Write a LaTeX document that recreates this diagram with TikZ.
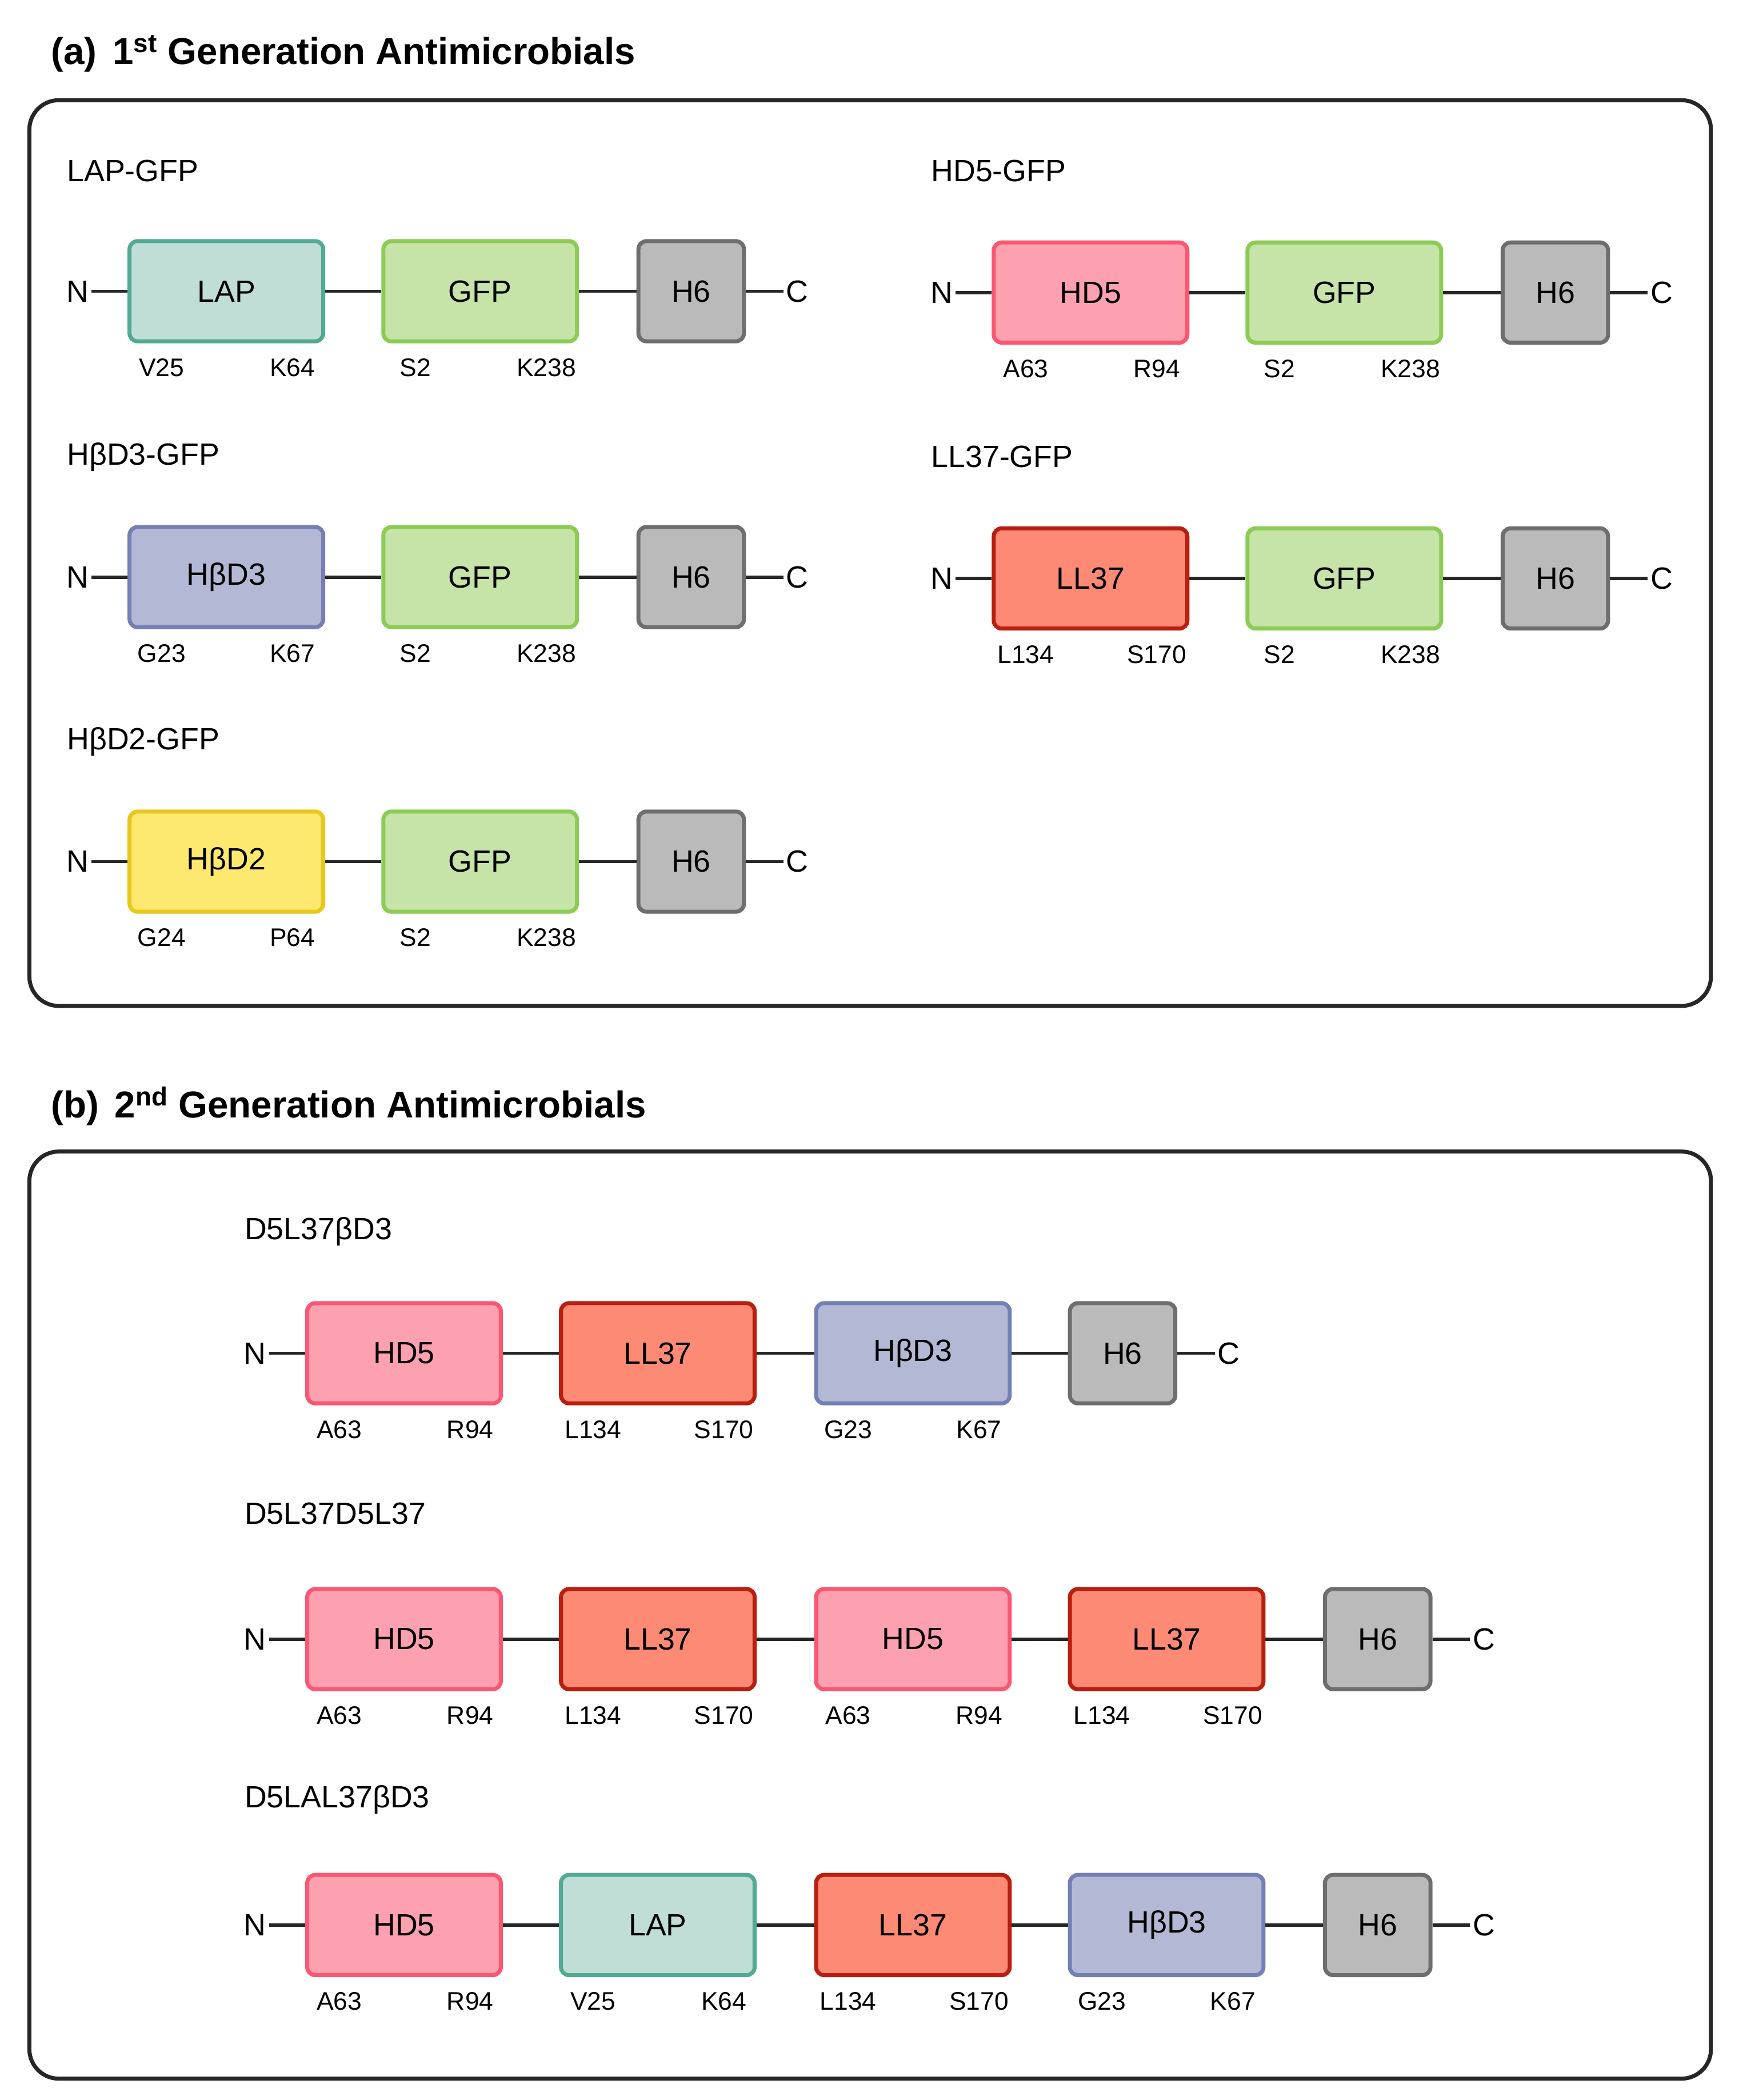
\documentclass[tikz,border=0pt]{standalone}
\usepackage{fontspec}
\setmainfont{Liberation Sans}
\definecolor{lapF}{HTML}{C0DDD6}\definecolor{lapB}{HTML}{52AA94}
\definecolor{gfpF}{HTML}{C6E3A8}\definecolor{gfpB}{HTML}{8CCB55}
\definecolor{hF}{HTML}{BABABA}\definecolor{hB}{HTML}{6E6E6E}
\definecolor{hdF}{HTML}{FDA0B0}\definecolor{hdB}{HTML}{FA5872}
\definecolor{bdF}{HTML}{B3B8D5}\definecolor{bdB}{HTML}{7480B5}
\definecolor{llF}{HTML}{FD8A75}\definecolor{llB}{HTML}{B91E10}
\definecolor{b2F}{HTML}{FDE870}\definecolor{b2B}{HTML}{E8C81A}
\tikzset{
 dombox/.style={draw, line width=3pt, rounded corners=6pt, minimum width=145pt, minimum height=75pt, inner sep=0pt, font=\fontsize{23}{27}\selectfont},
 lap/.style={dombox, fill=lapF, draw=lapB},
 gfp/.style={dombox, fill=gfpF, draw=gfpB},
 hsix/.style={dombox, fill=hF, draw=hB, minimum width=79pt},
 hd/.style={dombox, fill=hdF, draw=hdB},
 bd/.style={dombox, fill=bdF, draw=bdB},
 ll/.style={dombox, fill=llF, draw=llB},
 btwo/.style={dombox, fill=b2F, draw=b2B},
 res/.style={font=\fontsize{19}{22}\selectfont, inner sep=0pt},
 term/.style={font=\fontsize{23}{27}\selectfont, inner sep=2pt},
 cname/.style={font=\fontsize{23}{27}\selectfont, anchor=west, inner sep=0pt},
 link/.style={line width=2.5pt, draw=black!85},
 panel/.style={draw=black!85, line width=3pt, rounded corners=22pt},
 ttl/.style={font=\fontsize{28}{32}\selectfont\bfseries, anchor=west, inner sep=0pt},
}
% #1 name, #2 left x, #3 center y, #4 style, #5 text, #6 #7 residues, #8 width
\newcommand\dom[8]{%
 \node[#4] (#1) at ({#2+#8/2},#3) {#5};
 \node[res] (#1a) at ({#2+24},{#3+57}) {#6};
 \node[res] (#1b) at ({#2+122},{#3+57}) {#7};}
\newcommand\hsix[3]{\node[hsix] (#1) at ({#2+39.5},#3) {H6};}
\begin{document}
\begin{tikzpicture}[x=1pt,y=-1pt]
\useasboundingbox (0,0) rectangle (1302,1572);
% panel a
\node[ttl] (ta) at (38,40) {(a)\hspace{12pt}1\textsuperscript{st} Generation Antimicrobials};
\draw[panel] (22,75) rectangle (1281,753);
% panel b
\node[ttl] (tb) at (38,828) {(b)\hspace{12pt}2\textsuperscript{nd} Generation Antimicrobials};
\draw[panel] (22,862) rectangle (1281,1556);

% ---- panel a constructs
% LAP-GFP
\node[cname] (c1) at (50,128) {LAP-GFP};
\node[term] (n1) at (58,218) {N};
\dom{a1}{97}{218}{lap}{LAP}{V25}{K64}{145}
\dom{a2}{287}{218}{gfp}{GFP}{S2}{K238}{145}
\hsix{a3}{478}{218}
\node[term] (e1) at (597,218) {C};
\draw[link] (n1) -- (a1) (a1) -- (a2) (a2) -- (a3) (a3) -- (e1);
% HD5-GFP
\node[cname] (c2) at (697,128) {HD5-GFP};
\node[term] (n2) at (705,219) {N};
\dom{b1}{744}{219}{hd}{HD5}{A63}{R94}{145}
\dom{b2}{934}{219}{gfp}{GFP}{S2}{K238}{145}
\hsix{b3}{1125}{219}
\node[term] (e2) at (1244,219) {C};
\draw[link] (n2) -- (b1) (b1) -- (b2) (b2) -- (b3) (b3) -- (e2);
% HbD3-GFP
\node[cname] (c3) at (50,342) {HβD3-GFP};
\node[term] (n3) at (58,432) {N};
\dom{d1}{97}{432}{bd}{HβD3}{G23}{K67}{145}
\dom{d2}{287}{432}{gfp}{GFP}{S2}{K238}{145}
\hsix{d3}{478}{432}
\node[term] (e3) at (597,432) {C};
\draw[link] (n3) -- (d1) (d1) -- (d2) (d2) -- (d3) (d3) -- (e3);
% LL37-GFP
\node[cname] (c4) at (697,342) {LL37-GFP};
\node[term] (n4) at (705,433) {N};
\dom{f1}{744}{433}{ll}{LL37}{L134}{S170}{145}
\dom{f2}{934}{433}{gfp}{GFP}{S2}{K238}{145}
\hsix{f3}{1125}{433}
\node[term] (e4) at (1244,433) {C};
\draw[link] (n4) -- (f1) (f1) -- (f2) (f2) -- (f3) (f3) -- (e4);
% HbD2-GFP
\node[cname] (c5) at (50,555) {HβD2-GFP};
\node[term] (n5) at (58,645) {N};
\dom{g1}{97}{645}{btwo}{HβD2}{G24}{P64}{145}
\dom{g2}{287}{645}{gfp}{GFP}{S2}{K238}{145}
\hsix{g3}{478}{645}
\node[term] (e5) at (597,645) {C};
\draw[link] (n5) -- (g1) (g1) -- (g2) (g2) -- (g3) (g3) -- (e5);

% ---- panel b constructs
\node[cname] (c6) at (183,922) {D5L37βD3};
\node[term] (n6) at (191,1013) {N};
\dom{p1}{230}{1013}{hd}{HD5}{A63}{R94}{145}
\dom{p2}{420}{1013}{ll}{LL37}{L134}{S170}{145}
\dom{p3}{611}{1013}{bd}{HβD3}{G23}{K67}{145}
\hsix{p4}{801}{1013}
\node[term] (e6) at (920,1013) {C};
\draw[link] (n6) -- (p1) (p1) -- (p2) (p2) -- (p3) (p3) -- (p4) (p4) -- (e6);

\node[cname] (c7) at (183,1133) {D5L37D5L37};
\node[term] (n7) at (191,1227) {N};
\dom{q1}{230}{1227}{hd}{HD5}{A63}{R94}{145}
\dom{q2}{420}{1227}{ll}{LL37}{L134}{S170}{145}
\dom{q3}{611}{1227}{hd}{HD5}{A63}{R94}{145}
\dom{q4}{801}{1227}{ll}{LL37}{L134}{S170}{145}
\hsix{q5}{992}{1227}
\node[term] (e7) at (1111,1227) {C};
\draw[link] (n7) -- (q1) (q1) -- (q2) (q2) -- (q3) (q3) -- (q4) (q4) -- (q5) (q5) -- (e7);

\node[cname] (c8) at (183,1347) {D5LAL37βD3};
\node[term] (n8) at (191,1441) {N};
\dom{r1}{230}{1441}{hd}{HD5}{A63}{R94}{145}
\dom{r2}{420}{1441}{lap}{LAP}{V25}{K64}{145}
\dom{r3}{611}{1441}{ll}{LL37}{L134}{S170}{145}
\dom{r4}{801}{1441}{bd}{HβD3}{G23}{K67}{145}
\hsix{r5}{992}{1441}
\node[term] (e8) at (1111,1441) {C};
\draw[link] (n8) -- (r1) (r1) -- (r2) (r2) -- (r3) (r3) -- (r4) (r4) -- (r5) (r5) -- (e8);
\end{tikzpicture}
\end{document}
